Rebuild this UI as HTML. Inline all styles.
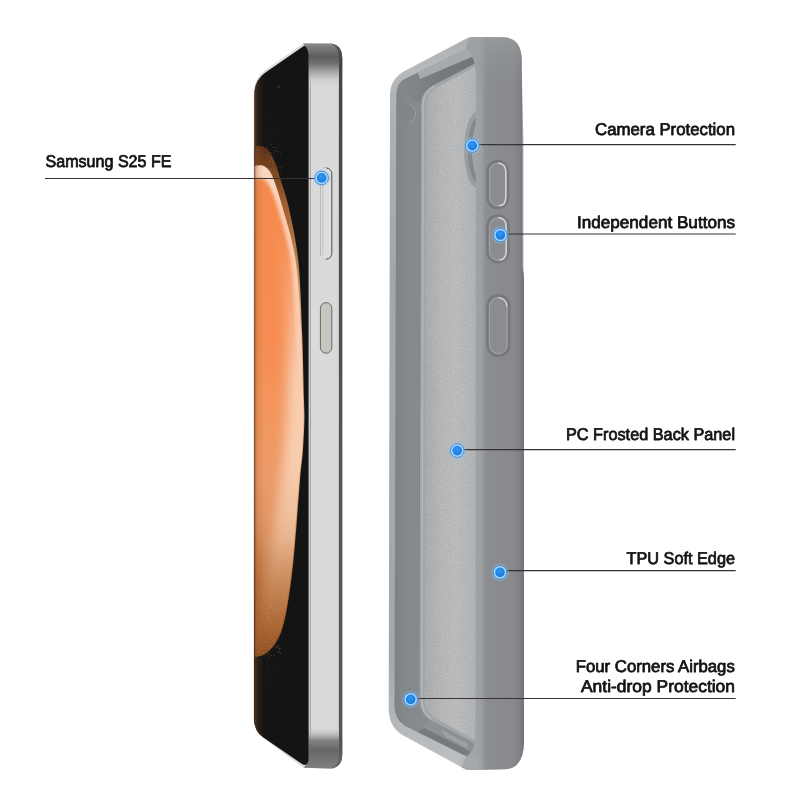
<!DOCTYPE html>
<html>
<head>
<meta charset="utf-8">
<style>
html,body{margin:0;padding:0;background:#fff;}
body{width:800px;height:800px;overflow:hidden;position:relative;font-family:"Liberation Sans",sans-serif;}
svg{position:absolute;left:0;top:0;display:block;}
.lbl{font-family:"Liberation Sans",sans-serif;font-size:17px;fill:#111;stroke:#111;stroke-width:0.78px;stroke-linejoin:round;text-rendering:geometricPrecision;}
</style>
</head>
<body>
<svg width="800" height="800" viewBox="0 0 800 800">
<defs>
  <!-- phone frame gradients -->
  <linearGradient id="frameH" x1="308" y1="0" x2="342" y2="0" gradientUnits="userSpaceOnUse">
    <stop offset="0" stop-color="#d4d4d4"/>
    <stop offset="0.06" stop-color="#cccccc"/>
    <stop offset="0.075" stop-color="#a0a0a0"/>
    <stop offset="0.09" stop-color="#dadada"/>
    <stop offset="0.85" stop-color="#dadada"/>
    <stop offset="0.9" stop-color="#c8c8c8"/>
    <stop offset="0.92" stop-color="#6a6a6a"/>
    <stop offset="1" stop-color="#555"/>
  </linearGradient>
  <linearGradient id="frameV" x1="0" y1="43" x2="0" y2="768" gradientUnits="userSpaceOnUse">
    <stop offset="0" stop-color="#929292" stop-opacity="1"/>
    <stop offset="0.006" stop-color="#7c7c7c" stop-opacity="1"/>
    <stop offset="0.019" stop-color="#5e5e5e" stop-opacity="1"/>
    <stop offset="0.029" stop-color="#727272" stop-opacity="1"/>
    <stop offset="0.04" stop-color="#a4a4a4" stop-opacity="0.95"/>
    <stop offset="0.051" stop-color="#cacaca" stop-opacity="0.7"/>
    <stop offset="0.066" stop-color="#dadada" stop-opacity="0"/>
    <stop offset="0.942" stop-color="#d6d6d6" stop-opacity="0"/>
    <stop offset="0.953" stop-color="#b4b4b4" stop-opacity="0.7"/>
    <stop offset="0.962" stop-color="#808080" stop-opacity="0.97"/>
    <stop offset="0.975" stop-color="#666666" stop-opacity="1"/>
    <stop offset="0.99" stop-color="#767676" stop-opacity="1"/>
    <stop offset="1" stop-color="#7e7e7e" stop-opacity="1"/>
  </linearGradient>
  <linearGradient id="edgeV" x1="0" y1="43" x2="0" y2="768" gradientUnits="userSpaceOnUse">
    <stop offset="0" stop-color="#555" stop-opacity="0.9"/>
    <stop offset="0.03" stop-color="#444" stop-opacity="1"/>
    <stop offset="0.3" stop-color="#4c4c4c" stop-opacity="1"/>
    <stop offset="0.6" stop-color="#555" stop-opacity="1"/>
    <stop offset="0.97" stop-color="#555" stop-opacity="1"/>
    <stop offset="1" stop-color="#666" stop-opacity="0.8"/>
  </linearGradient>
  <clipPath id="screenClip">
    <path id="screenPath" d="M304.5,45.6 L265.5,72.6 Q255.3,79.5 254.5,92 L254,719 Q254.3,731.5 263,737.3 L302,764 Q308.6,768 308.6,757 L308.6,58 Q308.6,48.5 304.5,45.6 Z"/>
  </clipPath>
  <radialGradient id="wallA" cx="0.35" cy="0.35" r="0.7">
    <stop offset="0" stop-color="#ff9a5e"/>
    <stop offset="0.5" stop-color="#f28d52"/>
    <stop offset="0.8" stop-color="#d97a44"/>
    <stop offset="1" stop-color="#b9673a"/>
  </radialGradient>
  <linearGradient id="wallV" x1="0" y1="160" x2="0" y2="660" gradientUnits="userSpaceOnUse">
    <stop offset="0" stop-color="#f58d55"/>
    <stop offset="0.45" stop-color="#f7985d"/>
    <stop offset="0.7" stop-color="#e58a50"/>
    <stop offset="0.88" stop-color="#c8733f"/>
    <stop offset="1" stop-color="#a85c30"/>
  </linearGradient>
  <filter id="b1" x="-20%" y="-20%" width="140%" height="140%"><feGaussianBlur stdDeviation="1"/></filter>
  <filter id="b2" x="-20%" y="-20%" width="140%" height="140%"><feGaussianBlur stdDeviation="2"/></filter>
  <filter id="b3" x="-30%" y="-30%" width="160%" height="160%"><feGaussianBlur stdDeviation="3.5"/></filter>
  <filter id="b05" x="-20%" y="-20%" width="140%" height="140%"><feGaussianBlur stdDeviation="0.5"/></filter>


  <linearGradient id="wOuter" x1="0" y1="146" x2="0" y2="657" gradientUnits="userSpaceOnUse">
    <stop offset="0" stop-color="#5a3018"/>
    <stop offset="0.05" stop-color="#7c4522"/>
    <stop offset="0.12" stop-color="#a0602f"/>
    <stop offset="0.2" stop-color="#b37a48"/>
    <stop offset="0.3" stop-color="#cf9a6e"/>
    <stop offset="0.4" stop-color="#e0a57c"/>
    <stop offset="0.65" stop-color="#dca073"/>
    <stop offset="0.85" stop-color="#c08048"/>
    <stop offset="1" stop-color="#8e5226"/>
  </linearGradient>
  <linearGradient id="wPale" x1="0" y1="165" x2="0" y2="656" gradientUnits="userSpaceOnUse">
    <stop offset="0" stop-color="#fcdac6"/>
    <stop offset="0.1" stop-color="#facdb0"/>
    <stop offset="0.3" stop-color="#facdb0"/>
    <stop offset="0.6" stop-color="#f8ceb0"/>
    <stop offset="0.72" stop-color="#efbf9b"/>
    <stop offset="0.80" stop-color="#e0aa80"/>
    <stop offset="0.886" stop-color="#cc9060"/>
    <stop offset="0.947" stop-color="#b87840"/>
    <stop offset="1" stop-color="#9e5e2e"/>
  </linearGradient>
  <linearGradient id="wDark" x1="0" y1="540" x2="0" y2="660" gradientUnits="userSpaceOnUse">
    <stop offset="0" stop-color="#a45a28" stop-opacity="0"/>
    <stop offset="0.3" stop-color="#a45a28" stop-opacity="0.22"/>
    <stop offset="0.6" stop-color="#a05626" stop-opacity="0.42"/>
    <stop offset="1" stop-color="#884820" stop-opacity="0.65"/>
  </linearGradient>
  <linearGradient id="wOrange" x1="0" y1="178" x2="0" y2="648" gradientUnits="userSpaceOnUse">
    <stop offset="0" stop-color="#f58a4e"/>
    <stop offset="0.33" stop-color="#f68d52"/>
    <stop offset="0.5" stop-color="#f3965e"/>
    <stop offset="0.64" stop-color="#ec9a68"/>
    <stop offset="0.73" stop-color="#e09462"/>
    <stop offset="0.81" stop-color="#cc824e"/>
    <stop offset="0.9" stop-color="#b66c36"/>
    <stop offset="1" stop-color="#a0562a"/>
  </linearGradient>

  <filter id="b6" x="-40%" y="-10%" width="180%" height="120%"><feGaussianBlur stdDeviation="6 4"/></filter>
  <filter id="b15" x="-20%" y="-20%" width="140%" height="140%"><feGaussianBlur stdDeviation="1.4"/></filter>
  <clipPath id="paleClip"><path d="M246.0,166.5 C247.6,166.4 252.8,165.9 255.5,165.7 C258.2,165.5 260.5,164.8 262.5,165.4 C264.5,166.0 266.0,166.9 267.8,169.0 C269.5,171.1 270.5,171.3 273.0,177.8 C275.5,184.2 278.8,193.8 282.6,207.5 C286.4,221.2 292.5,239.6 295.6,260.0 C298.7,280.4 299.7,306.7 301.0,330.0 C302.3,353.3 302.8,385.0 303.2,400.0 C303.6,415.0 303.8,411.7 303.6,420.0 C303.4,428.3 302.9,440.0 302.2,450.0 C301.5,460.0 300.8,461.7 299.2,480.0 C297.6,498.3 294.8,538.0 292.5,560.0 C290.2,582.0 287.7,599.2 285.2,612.0 C282.7,624.8 280.7,630.5 277.5,637.0 C274.3,643.5 269.6,648.0 266.2,651.0 C262.8,654.0 260.4,654.2 257.0,655.0 C253.6,655.8 247.8,655.8 246.0,656.0 Z"/></clipPath>
  <linearGradient id="topMaskG" x1="0" y1="230" x2="0" y2="380" gradientUnits="userSpaceOnUse">
    <stop offset="0" stop-color="#fff"/><stop offset="1" stop-color="#000"/>
  </linearGradient>
  <mask id="topMask" maskUnits="userSpaceOnUse" x="240" y="140" width="80" height="540"><rect x="240" y="140" width="80" height="540" fill="url(#topMaskG)"/></mask>
  <linearGradient id="topWallG" x1="398" y1="0" x2="478" y2="0" gradientUnits="userSpaceOnUse">
    <stop offset="0" stop-color="#85888b"/>
    <stop offset="0.25" stop-color="#808386"/>
    <stop offset="0.5" stop-color="#787b7e"/>
    <stop offset="1" stop-color="#717477"/>
  </linearGradient>
  <filter id="grain" x="0" y="0" width="100%" height="100%" color-interpolation-filters="sRGB">
    <feTurbulence type="fractalNoise" baseFrequency="0.75" numOctaves="2" seed="4" result="n"/>
    <feColorMatrix in="n" type="matrix" values="0 0 0 0 1  0 0 0 0 1  0 0 0 0 1  1.6 0 0 0 -0.62" result="w"/>
    <feComposite in="w" in2="SourceGraphic" operator="in"/>
  </filter>
  <filter id="grainD" x="0" y="0" width="100%" height="100%" color-interpolation-filters="sRGB">
    <feTurbulence type="fractalNoise" baseFrequency="0.75" numOctaves="2" seed="9" result="n"/>
    <feColorMatrix in="n" type="matrix" values="0 0 0 0 0.3  0 0 0 0 0.3  0 0 0 0 0.3  1.6 0 0 0 -0.62" result="w"/>
    <feComposite in="w" in2="SourceGraphic" operator="in"/>
  </filter>
  <filter id="speck" x="0" y="0" width="100%" height="100%" color-interpolation-filters="sRGB">
    <feTurbulence type="fractalNoise" baseFrequency="0.95" numOctaves="1" seed="7" result="n"/>
    <feColorMatrix in="n" type="matrix" values="0 0 0 0 0.93  0 0 0 0 0.66  0 0 0 0 0.45  4 0 0 0 -2.45" result="w"/>
    <feComposite in="w" in2="SourceGraphic" operator="in"/>
  </filter>
  <linearGradient id="speckMaskG" x1="0" y1="100" x2="0" y2="720" gradientUnits="userSpaceOnUse">
    <stop offset="0" stop-color="#111"/>
    <stop offset="0.06" stop-color="#3a3a3a"/>
    <stop offset="0.085" stop-color="#bbb"/>
    <stop offset="0.11" stop-color="#fff"/>
    <stop offset="0.15" stop-color="#000"/>
    <stop offset="0.72" stop-color="#000"/>
    <stop offset="0.80" stop-color="#ccc"/>
    <stop offset="0.89" stop-color="#fff"/>
    <stop offset="0.905" stop-color="#444"/>
    <stop offset="1" stop-color="#0a0a0a"/>
  </linearGradient>
  <mask id="speckMask" maskUnits="userSpaceOnUse" x="248" y="100" width="62" height="620"><rect x="248" y="100" width="34" height="620" fill="url(#speckMaskG)"/></mask>
  <linearGradient id="leftShade" x1="252" y1="0" x2="264" y2="0" gradientUnits="userSpaceOnUse">
    <stop offset="0" stop-color="#3a2010" stop-opacity="0.9"/>
    <stop offset="0.24" stop-color="#4a2812" stop-opacity="0.78"/>
    <stop offset="0.31" stop-color="#8a5428" stop-opacity="0.36"/>
    <stop offset="0.5" stop-color="#9a5c2c" stop-opacity="0.17"/>
    <stop offset="1" stop-color="#a06030" stop-opacity="0"/>
  </linearGradient>
  <clipPath id="caseClip"><path d="M472,37 L505,37.5 Q520.5,38.5 521.6,58 L523.4,140 L523.4,268 L524,276 L524,742 Q523.5,768.5 505,769.3 L470,770 Q466,770 462,767.5 L402.5,735 Q388.7,727 388.7,708 L390,94 Q390.4,79 404.6,71 L466,38.8 Q469,37 472,37 Z"/></clipPath>
  <!-- case -->
  <linearGradient id="caseWall" x1="475.5" y1="0" x2="524" y2="0" gradientUnits="userSpaceOnUse">
    <stop offset="0" stop-color="#a1a4a7"/>
    <stop offset="0.13" stop-color="#9c9fa2"/>
    <stop offset="0.2" stop-color="#8e9093"/>
    <stop offset="0.3" stop-color="#8a8c8f"/>
    <stop offset="0.8" stop-color="#87898c"/>
    <stop offset="0.92" stop-color="#7d7f82"/>
    <stop offset="1" stop-color="#707275"/>
  </linearGradient>
  <linearGradient id="wallTop" x1="0" y1="37" x2="0" y2="100" gradientUnits="userSpaceOnUse">
    <stop offset="0" stop-color="#a0a3a6" stop-opacity="0.55"/>
    <stop offset="0.35" stop-color="#96999c" stop-opacity="0.35"/>
    <stop offset="1" stop-color="#8a8c8f" stop-opacity="0"/>
  </linearGradient>
  <linearGradient id="rimG" x1="0" y1="37" x2="0" y2="770" gradientUnits="userSpaceOnUse">
    <stop offset="0" stop-color="#adb0b3"/>
    <stop offset="0.045" stop-color="#b7babd"/>
    <stop offset="0.11" stop-color="#aeb1b4"/>
    <stop offset="0.3" stop-color="#a5a8ab"/>
    <stop offset="0.85" stop-color="#a5a8ab"/>
    <stop offset="0.93" stop-color="#b4b7ba"/>
    <stop offset="1" stop-color="#bec1c4"/>
  </linearGradient>
  <linearGradient id="cavG" x1="395" y1="0" x2="425" y2="0" gradientUnits="userSpaceOnUse">
    <stop offset="0" stop-color="#7f8285"/>
    <stop offset="0.3" stop-color="#86898c"/>
    <stop offset="1" stop-color="#888b8e"/>
  </linearGradient>
  <linearGradient id="panel" x1="426" y1="0" x2="476" y2="0" gradientUnits="userSpaceOnUse">
    <stop offset="0" stop-color="#a9abad"/>
    <stop offset="0.3" stop-color="#b4b6b8"/>
    <stop offset="0.6" stop-color="#b9bbbd"/>
    <stop offset="1" stop-color="#b0b2b4"/>
  </linearGradient>
  <radialGradient id="dot" cx="0.45" cy="0.35" r="0.7">
    <stop offset="0" stop-color="#3497f2"/>
    <stop offset="0.5" stop-color="#2088e8"/>
    <stop offset="1" stop-color="#1878d8"/>
  </radialGradient>
  <radialGradient id="glow" cx="0.5" cy="0.5" r="0.5">
    <stop offset="0.7" stop-color="#8cc4f5" stop-opacity="0.55"/>
    <stop offset="1" stop-color="#8cc4f5" stop-opacity="0"/>
  </radialGradient>
</defs>

<!-- ================= PHONE ================= -->
<g id="phone">
  <!-- thin bright bezel behind screen (front rim) -->
  <path d="M304,43 L264,71 Q253.6,79 253.6,94 L253.3,716 Q253.5,731 263,738 L303,767.5 L329,768.4 Q342,768.4 342,754 L342,58.5 Q342,43.6 329,43.6 Z" fill="#dcdcdc"/>
  <!-- frame side -->
  <path id="frameP" d="M303,43.6 L329,43.4 Q342.2,43.5 342.2,58.5 L342.2,754 Q342.2,768.5 329,768.6 L303.5,767.8 Q308.5,764 308.3,756 L308.3,58 Q308.3,48 303,43.6 Z" fill="url(#frameH)"/>
  <path d="M303,43.6 L329,43.4 Q342.2,43.5 342.2,58.5 L342.2,754 Q342.2,768.5 329,768.6 L303.5,767.8 Q308.5,764 308.3,756 L308.3,58 Q308.3,48 303,43.6 Z" fill="url(#frameV)"/>
  <!-- right dark edge stronger at top -->
  <path d="M329,43.4 Q342.2,43.5 342.2,58.5 L342.2,754 Q342.2,768.5 329,768.6 Q339,767.5 339,753 L339,59 Q339,45 329,43.4 Z" fill="url(#edgeV)"/>
  <!-- volume button -->
  <rect x="320.6" y="168" width="11.2" height="91" rx="5.6" fill="#dedede" stroke="#4c4c4c" stroke-width="1"/>
  <path d="M326,168.3 Q320.9,168.6 320.9,174 L320.9,253 Q320.9,258.4 326,258.7" fill="none" stroke="#efefef" stroke-width="1.1"/>
  <line x1="322.8" y1="172" x2="322.8" y2="255" stroke="#aaaaaa" stroke-width="0.6"/>
  <!-- power button -->
  <rect x="320.4" y="302.6" width="11.4" height="50.6" rx="5.7" fill="#c6c6be" stroke="#686868" stroke-width="1"/>
  <!-- screen -->
  <use href="#screenPath" fill="#141414"/>
  <g clip-path="url(#screenClip)">
    <!-- WALL START -->
    <path d="M246.0,147.0 C247.4,146.9 251.8,146.3 254.6,146.2 C257.4,146.1 260.3,145.9 262.5,146.5 C264.7,147.1 266.3,148.3 267.8,149.8 C269.2,151.2 269.9,152.7 271.2,155.0 C272.6,157.3 274.1,160.0 275.6,163.8 C277.1,167.5 277.8,170.5 280.0,177.8 C282.2,185.0 285.7,193.8 288.8,207.5 C291.8,221.2 296.0,239.6 298.2,260.0 C300.4,280.4 301.0,306.7 302.0,330.0 C303.0,353.3 303.6,385.0 304.0,400.0 C304.4,415.0 304.6,411.7 304.4,420.0 C304.2,428.3 303.7,440.0 303.0,450.0 C302.3,460.0 301.6,461.7 300.0,480.0 C298.4,498.3 295.8,538.0 293.5,560.0 C291.2,582.0 288.7,599.0 286.2,612.0 C283.7,625.0 281.7,631.2 278.5,638.0 C275.3,644.8 270.6,649.4 267.0,652.5 C263.4,655.6 260.5,655.8 257.0,656.5 C253.5,657.2 247.8,656.9 246.0,657.0 Z" fill="url(#wOuter)" filter="url(#b05)"/>
    <path d="M246.0,166.5 C247.6,166.4 252.8,165.9 255.5,165.7 C258.2,165.5 260.5,164.8 262.5,165.4 C264.5,166.0 266.0,166.9 267.8,169.0 C269.5,171.1 270.5,171.3 273.0,177.8 C275.5,184.2 278.8,193.8 282.6,207.5 C286.4,221.2 292.5,239.6 295.6,260.0 C298.7,280.4 299.7,306.7 301.0,330.0 C302.3,353.3 302.8,385.0 303.2,400.0 C303.6,415.0 303.8,411.7 303.6,420.0 C303.4,428.3 302.9,440.0 302.2,450.0 C301.5,460.0 300.8,461.7 299.2,480.0 C297.6,498.3 294.8,538.0 292.5,560.0 C290.2,582.0 287.7,599.2 285.2,612.0 C282.7,624.8 280.7,630.5 277.5,637.0 C274.3,643.5 269.6,648.0 266.2,651.0 C262.8,654.0 260.4,654.2 257.0,655.0 C253.6,655.8 247.8,655.8 246.0,656.0 Z" fill="url(#wPale)" filter="url(#b05)"/>
    <g clip-path="url(#paleClip)">
    <path d="M240.0,200.0 C242.5,200.0 250.8,199.2 255.0,200.0 C259.2,200.8 261.8,200.8 265.0,205.0 C268.2,209.2 271.2,215.8 274.0,225.0 C276.8,234.2 279.8,242.5 282.0,260.0 C284.2,277.5 286.2,306.7 287.0,330.0 C287.8,353.3 287.5,380.0 287.0,400.0 C286.5,420.0 285.5,433.3 284.0,450.0 C282.5,466.7 280.7,481.7 278.0,500.0 C275.3,518.3 271.0,542.5 268.0,560.0 C265.0,577.5 262.3,593.3 260.0,605.0 C257.7,616.7 256.0,623.8 254.0,630.0 C252.0,636.2 250.3,639.3 248.0,642.0 C245.7,644.7 241.3,645.3 240.0,646.0 Z" fill="url(#wOrange)" filter="url(#b6)"/>
    <path d="M246.0,179.0 C247.6,178.9 252.6,178.6 255.5,178.6 C258.4,178.6 261.4,178.1 263.5,179.0 C265.6,179.9 266.7,182.2 268.0,184.0 C269.3,185.8 269.7,186.1 271.2,190.0 C272.8,193.9 274.2,195.8 277.4,207.5 C280.6,219.2 287.6,239.6 290.5,260.0 C293.4,280.4 294.2,306.7 295.0,330.0 C295.8,353.3 296.0,380.0 295.5,400.0 C295.0,420.0 293.8,433.3 292.0,450.0 C290.2,466.7 288.2,481.7 285.0,500.0 C281.8,518.3 276.5,542.5 273.0,560.0 C269.5,577.5 266.5,593.3 264.0,605.0 C261.5,616.7 259.8,623.8 258.0,630.0 C256.2,636.2 255.0,639.3 253.0,642.0 C251.0,644.7 247.2,645.3 246.0,646.0 Z" fill="url(#wOrange)" filter="url(#b15)" mask="url(#topMask)"/>
    </g>
    <path d="M246.0,147.0 C247.4,146.9 251.8,146.3 254.6,146.2 C257.4,146.1 260.3,145.9 262.5,146.5 C264.7,147.1 266.3,148.3 267.8,149.8 C269.2,151.2 269.9,152.7 271.2,155.0 C272.6,157.3 274.1,160.0 275.6,163.8 C277.1,167.5 277.8,170.5 280.0,177.8 C282.2,185.0 285.7,193.8 288.8,207.5 C291.8,221.2 296.0,239.6 298.2,260.0 C300.4,280.4 301.0,306.7 302.0,330.0 C303.0,353.3 303.6,385.0 304.0,400.0 C304.4,415.0 304.6,411.7 304.4,420.0 C304.2,428.3 303.7,440.0 303.0,450.0 C302.3,460.0 301.6,461.7 300.0,480.0 C298.4,498.3 295.8,538.0 293.5,560.0 C291.2,582.0 288.7,599.0 286.2,612.0 C283.7,625.0 281.7,631.2 278.5,638.0 C275.3,644.8 270.6,649.4 267.0,652.5 C263.4,655.6 260.5,655.8 257.0,656.5 C253.5,657.2 247.8,656.9 246.0,657.0 Z" fill="url(#wDark)"/>
    <g mask="url(#speckMask)"><path d="M248,100 L310,100 L310,720 L248,720 Z" fill="#fff" filter="url(#speck)" opacity="0.8"/></g>
    <!-- WALL END -->
    <circle cx="279" cy="86.5" r="1.6" fill="#262626"/><circle cx="279" cy="86.5" r="0.7" fill="#3a3a3a"/>
    <!-- left dark edge of glass -->
    <rect x="252" y="40" width="12" height="730" fill="url(#leftShade)"/>
  </g>
</g>

<!-- ================= CASE ================= -->
<g id="case">
  <!-- outer silhouette (lip / rim, lighter) -->
  <path id="caseOuter" d="M472,37 L505,37.5 Q520.5,38.5 521.6,58 L523.4,140 L523.4,268 L524,276 L524,742 Q523.5,768.5 505,769.3 L470,770 Q466,770 462,767.5 L402.5,735 Q388.7,727 388.7,708 L390,94 Q390.4,79 404.6,71 L466,38.8 Q469,37 472,37 Z" fill="url(#rimG)"/>
  <!-- inner cavity (left wall + top/bottom wall interior) -->
  <path d="M469,48 L404,79.5 Q396.3,84 396.3,96 L394.5,706 Q394.5,719 405,726 L466,756 Q472,758.5 476,754 L480,740 L480,60 Z" fill="url(#cavG)"/>
  <!-- top wall inner band lighter step -->
  <path d="M469,48 L404,79.5 Q399,82 397.5,88 L424,106 Q425,93 436.5,87.5 L474,67.5 L478,60 Z" fill="url(#topWallG)"/>
  <path d="M468.5,48.2 L417.5,72.5 L420,79 L473,56.5 Z" fill="#a7aaad"/>
  <!-- bottom wall interior lighter -->
  <path d="M430,718 L474,741 L476,754 Q472,758.5 466,756 L420,733 Z" fill="#8e9194" opacity="0.8"/>
  <path d="M424,728 L470,751.5 L468,757 L418,732 Z" fill="#6f7275" opacity="0.75" filter="url(#b05)"/>
  <path d="M440,729 L468,744 L467,748 L446,737 Z" fill="#a6a9ac" opacity="0.7" filter="url(#b05)"/>
  <!-- airbag hints -->
  <ellipse cx="407.5" cy="113" rx="8" ry="9" fill="#7f8285" opacity="0.55"/>
  <path d="M409,104.5 Q416,107 415.5,115 Q415,121 409,122.5" fill="none" stroke="#a2a5a8" stroke-width="1" opacity="0.8"/>
  <ellipse cx="410" cy="699" rx="9" ry="11" fill="#7f8285" opacity="0.45"/>
  <line x1="420.6" y1="110" x2="419.4" y2="696" stroke="#7a7d80" stroke-width="0.9" opacity="0.8"/>
  <!-- back panel border -->
  <path d="M474,64 L433,85.5 Q421,92 421,104 L419.5,700 Q420,713 429,719 L474,743 L482,743 L482,64 Z" fill="#a3a6a9"/>
  <!-- back panel -->
  <path d="M474,67.5 L436.5,87.5 Q426.5,93 426.5,104 L425,700 Q425.5,711 432,716 L474,739.5 L482,739.5 L482,67 Z" fill="url(#panel)"/>
  <path d="M474,67.5 L436.5,87.5 Q426.5,93 426.5,104 L425,700 Q425.5,711 432,716 L474,739.5 L482,739.5 L482,67 Z" fill="#fff" filter="url(#grain)" opacity="0.22"/>
  <path d="M474,67.5 L436.5,87.5 Q426.5,93 426.5,104 L425,700 Q425.5,711 432,716 L474,739.5 L482,739.5 L482,67 Z" fill="#fff" filter="url(#grainD)" opacity="0.16"/>
  <path d="M433,85.5 Q421,92 421,104 L419.5,700 Q420,713 429,719" fill="none" stroke="#b9bcbe" stroke-width="1.2" opacity="0.9" transform="translate(2.2,0)"/>
  <!-- camera ring -->
  <g id="cam">
    <ellipse cx="478" cy="150" rx="13.8" ry="38.5" fill="#9a9da0"/>
    <ellipse cx="478.5" cy="150" rx="10.8" ry="33" fill="#85888b"/>
    <ellipse cx="479" cy="150" rx="7" ry="27.5" fill="#a1a4a7"/>
  </g>
  <!-- right wall (lip + outer side) -->
  <path d="M468,39.5 Q469,37 472,37 L505,37.5 Q520.5,38.5 521.6,58 L522.4,140 L522.4,266 L524,277 L524,742 Q523.5,768.5 505,769.3 L470,770 Q466,770 462,767.5 L466,757 Q474.5,752 475.3,738 L475.8,74 Q475.5,56 466,49 Z" fill="url(#caseWall)"/>
  <!-- top shading of wall -->
  <path d="M468,39.5 Q469,37 472,37 L505,37.5 Q520.5,38.5 521.6,58 L522,100 L476,100 L475.8,74 Q475.5,56 466,49 Z" fill="url(#wallTop)"/>
  <ellipse cx="471" cy="763" rx="9" ry="7" fill="#a9acaf" opacity="0.75" filter="url(#b2)" clip-path="url(#caseClip)"/>
  <!-- buttons -->
  <g fill="none">
    <rect x="487.6" y="161.0" width="20.4" height="47.0" rx="10.2" fill="#8a8c8f" stroke="#76787b" stroke-width="2.6" filter="url(#b05)"/>
    <rect x="489.8" y="163.2" width="16.0" height="42.6" rx="8.0" stroke="#a2a4a7" stroke-width="1"/>
    <path d="M498.8,163.2 Q505.8,163.6 505.8,172.2 L505.8,196.8 Q505.8,205.4 499.8,205.8" stroke="#d2d4d6" stroke-width="1.5" stroke-linecap="round"/>
    <rect x="487.4" y="215.6" width="21.0" height="46.6" rx="10.5" fill="#8a8c8f" stroke="#76787b" stroke-width="2.6" filter="url(#b05)"/>
    <rect x="489.6" y="217.8" width="16.6" height="42.2" rx="8.3" stroke="#a2a4a7" stroke-width="1"/>
    <path d="M498.9,217.8 Q506.2,218.2 506.2,227.1 L506.2,250.7 Q506.2,259.6 499.9,260.0" stroke="#d2d4d6" stroke-width="1.5" stroke-linecap="round"/>
    <rect x="487.4" y="295.4" width="21.8" height="60.4" rx="10.9" fill="#8a8c8f" stroke="#76787b" stroke-width="2.6" filter="url(#b05)"/>
    <rect x="489.6" y="297.6" width="17.4" height="56.0" rx="8.7" stroke="#a2a4a7" stroke-width="1"/>
    <path d="M499,297.8 Q506.3,298.6 506.8,306" stroke="#d4d6d8" stroke-width="1.3" stroke-linecap="round"/>
  </g>
</g>

<!-- ================= CALLOUTS ================= -->
<g stroke="#333" stroke-width="1.2" fill="none">
  <line x1="45" y1="178.5" x2="322" y2="178.5"/>
  <line x1="478" y1="144.6" x2="735.7" y2="144.6"/>
  <line x1="506" y1="234" x2="735.7" y2="234"/>
  <line x1="463" y1="449.6" x2="735.7" y2="449.6"/>
  <line x1="505" y1="570.6" x2="735.7" y2="570.6"/>
  <line x1="416" y1="698.5" x2="735.7" y2="698.5"/>
</g>
<g id="dots">
  <circle cx="321.6" cy="177.9" r="9.6" fill="url(#glow)"/><circle cx="321.6" cy="177.9" r="6.8" fill="#acd6f9" stroke="#3d82cb" stroke-width="0.9"/><circle cx="321.6" cy="177.9" r="4.8" fill="url(#dot)"/>
  <circle cx="472.3" cy="145.6" r="9.6" fill="url(#glow)"/><circle cx="472.3" cy="145.6" r="6.8" fill="#acd6f9" stroke="#3d82cb" stroke-width="0.9"/><circle cx="472.3" cy="145.6" r="4.8" fill="url(#dot)"/>
  <circle cx="500.4" cy="235" r="9.6" fill="url(#glow)"/><circle cx="500.4" cy="235" r="6.8" fill="#acd6f9" stroke="#3d82cb" stroke-width="0.9"/><circle cx="500.4" cy="235" r="4.8" fill="url(#dot)"/>
  <circle cx="457.25" cy="450.6" r="9.6" fill="url(#glow)"/><circle cx="457.25" cy="450.6" r="6.8" fill="#acd6f9" stroke="#3d82cb" stroke-width="0.9"/><circle cx="457.25" cy="450.6" r="4.8" fill="url(#dot)"/>
  <circle cx="500" cy="572.4" r="9.6" fill="url(#glow)"/><circle cx="500" cy="572.4" r="6.8" fill="#acd6f9" stroke="#3d82cb" stroke-width="0.9"/><circle cx="500" cy="572.4" r="4.8" fill="url(#dot)"/>
  <circle cx="410.7" cy="699.4" r="9.6" fill="url(#glow)"/><circle cx="410.7" cy="699.4" r="6.8" fill="#acd6f9" stroke="#3d82cb" stroke-width="0.9"/><circle cx="410.7" cy="699.4" r="4.8" fill="url(#dot)"/>
</g>

<!-- ================= TEXT ================= -->
<g class="lbl" opacity="0.99">
  <text x="45.5" y="166.8" textLength="126" lengthAdjust="spacingAndGlyphs">Samsung S25 FE</text>
  <text x="595" y="135.2" textLength="140" lengthAdjust="spacingAndGlyphs">Camera Protection</text>
  <text x="577" y="227.6" textLength="158" lengthAdjust="spacingAndGlyphs">Independent Buttons</text>
  <text x="566" y="440" textLength="169" lengthAdjust="spacingAndGlyphs">PC Frosted Back Panel</text>
  <text x="626.5" y="564.2" textLength="108.5" lengthAdjust="spacingAndGlyphs">TPU Soft Edge</text>
  <text x="575.8" y="671.8" textLength="159" lengthAdjust="spacingAndGlyphs">Four Corners Airbags</text>
  <text x="581" y="692" textLength="154" lengthAdjust="spacingAndGlyphs">Anti-drop Protection</text>
</g>
</svg>
</body>
</html>
